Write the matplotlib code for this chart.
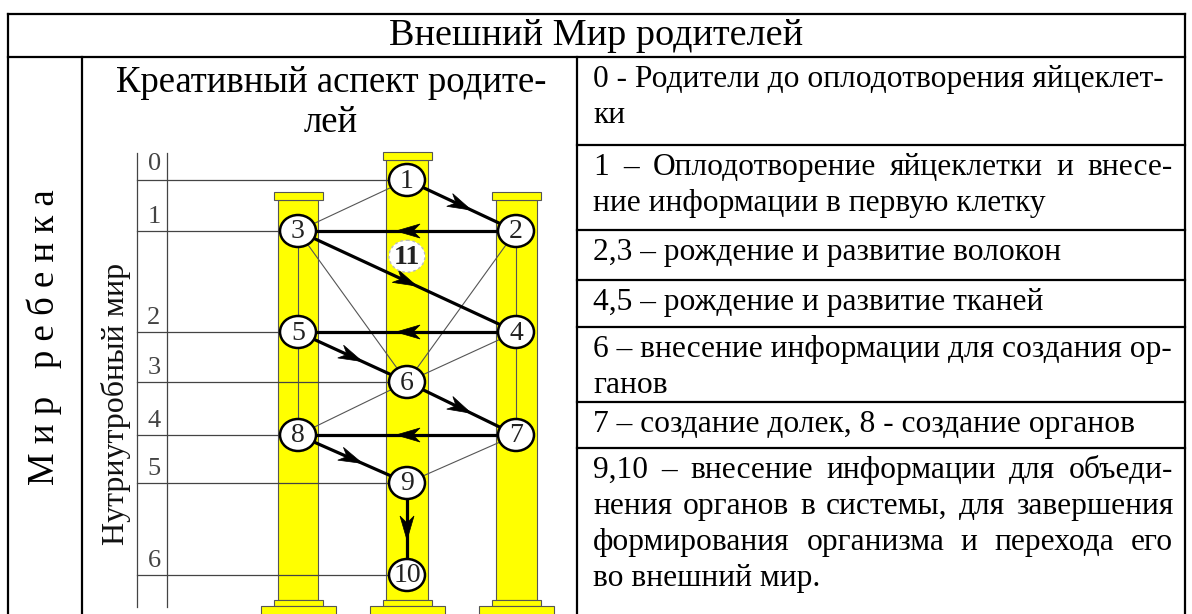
import matplotlib
matplotlib.use("Agg")
import matplotlib.pyplot as plt
from matplotlib.patches import Rectangle, Ellipse, Polygon
import numpy as np

# ---- content ----
header = "Внешний Мир родителей"
side_label = "М и р   р е б е н к а"
panel_title = ["Креативный аспект родите-", "лей"]
axis_label = "Нутриутробный мир"

stage_labels = ["0", "1", "2", "3", "4", "5", "6"]
stage_y = [180, 231, 332, 382, 435, 483, 575]

node_ids = [1, 2, 3, 11, 4, 5, 6, 7, 8, 9, 10]
node_col = [1, 2, 0, 1, 2, 0, 1, 2, 0, 1, 1]
node_level = [0, 1, 1, 1.25, 2, 2, 3, 4, 4, 5, 6]

main_path = [1, 2, 3, 4, 5, 6, 7, 8, 9, 10]
thin_links = [(1, 3), (3, 6), (2, 6), (4, 6), (6, 8), (7, 9),
              (3, 5), (5, 8), (2, 4), (4, 7)]

# right column: rows of (text, justified)
stage_rows = [
    [("0 - Родители до оплодотворения яйцеклет-", False), ("ки", False)],
    [("1 – Оплодотворение яйцеклетки и внесе-", True),
     ("ние информации в первую клетку", False)],
    [("2,3 – рождение и развитие волокон", False)],
    [("4,5 – рождение и развитие тканей", False)],
    [("6 – внесение информации для создания ор-", False), ("ганов", False)],
    [("7 – создание долек, 8 - создание органов", False)],
    [("9,10 – внесение информации для объеди-", True),
     ("нения органов в системы, для завершения", True),
     ("формирования организма и перехода его", True),
     ("во внешний мир.", False)],
]

# ---- layout ----
W, H = 1192, 614
SERIF = "Liberation Serif"
col_x = [298, 407, 516]
row_lines = [57, 145, 230, 280, 327, 402, 448]
x_left, x_side, x_mid, x_right = 7.5, 82, 577, 1185
top = 14

fig = plt.figure(figsize=(W / 100, H / 100), dpi=100)
ax = fig.add_axes([0, 0, 1, 1])
ax.set_xlim(0, W)
ax.set_ylim(H, 0)
ax.axis("off")
renderer = fig.canvas.get_renderer()

# table frame
lw_tab = 1.6
ax.plot([x_left, x_right], [top, top], color="k", lw=lw_tab)
ax.plot([x_left, x_left], [top, H + 5], color="k", lw=lw_tab)
ax.plot([x_right, x_right], [top, H + 5], color="k", lw=lw_tab)
ax.plot([x_left, x_right], [row_lines[0]] * 2, color="k", lw=lw_tab)
ax.plot([x_side, x_side], [row_lines[0], H + 5], color="k", lw=lw_tab)
ax.plot([x_mid, x_mid], [row_lines[0], H + 5], color="k", lw=lw_tab)
for y in row_lines[1:]:
    ax.plot([x_mid, x_right], [y, y], color="k", lw=lw_tab)

ax.text((x_left + x_right) / 2, 36, header, fontsize=27.5, family=SERIF,
        ha="center", va="center")
ax.text((x_left + x_side) / 2, 337, side_label, fontsize=26.5, family=SERIF,
        rotation=90, ha="center", va="center")
ax.text(331, 92, panel_title[0], fontsize=26.5, family=SERIF,
        ha="center", va="baseline")
ax.text(331, 132, panel_title[1], fontsize=26.5, family=SERIF,
        ha="center", va="baseline")


def put_line(x0, x1, y, s, justify, size=22.7):
    if not justify:
        ax.text(x0, y, s, fontsize=size, family=SERIF, va="baseline")
        return
    words = s.split(" ")
    arts = [ax.text(0, y, w, fontsize=size, family=SERIF, va="baseline")
            for w in words]
    widths = [a.get_window_extent(renderer).width for a in arts]
    gap = (x1 - x0 - sum(widths)) / (len(words) - 1)
    x = x0
    for a, w in zip(arts, widths):
        a.set_x(x)
        x += w + gap


for top_y, row in zip(row_lines, stage_rows):
    for i, (s, just) in enumerate(row):
        put_line(593, 1173, top_y + 30 + 36 * i, s, just)

# ---- diagram ----
pillar_w = [40, 42, 41]
cap_top = [192, 152, 192]
for cx, pw, ct in zip(col_x, pillar_w, cap_top):
    ax.add_patch(Rectangle((cx - pw / 2, ct + 8), pw, 600 - ct - 8,
                           fc="#ffff00", ec="#555555", lw=0.8, zorder=1))
    ax.add_patch(Rectangle((cx - 24.5, ct), 49, 8,
                           fc="#ffff00", ec="#555555", lw=0.8, zorder=1))
    ax.add_patch(Rectangle((cx - 24.5, 600), 49, 6,
                           fc="#ffff00", ec="#555555", lw=0.8, zorder=1))
    ax.add_patch(Rectangle((cx - 37.5, 606), 75, 14,
                           fc="#ffff00", ec="#555555", lw=0.8, zorder=1))

# stage axis
for xa in (137, 167):
    ax.plot([xa, xa], [153, 607], color="#444444", lw=0.9, zorder=2)
ax.text(155, 164, stage_labels[0], fontsize=19, family=SERIF, color="#444444",
        ha="center", va="center")

node_x = {n: col_x[c] for n, c in zip(node_ids, node_col)}
node_y = {n: float(np.interp(l, range(len(stage_y)), stage_y))
          for n, l in zip(node_ids, node_level)}

for k, (lab, y) in enumerate(zip(stage_labels, stage_y)):
    at_level = [n for n, l in zip(node_ids, node_level) if l == k]
    xe = min(node_x[n] for n in at_level)
    ax.plot([137, xe], [y, y], color="#444444", lw=0.9, zorder=2)
    if k > 0:
        ax.text(154, y - 14, lab, fontsize=19, family=SERIF, color="#444444",
                ha="center", va="center")

for a, b in thin_links:
    ax.plot([node_x[a], node_x[b]], [node_y[a], node_y[b]],
            color="#555555", lw=0.8, zorder=3)

for a, b in zip(main_path[:-1], main_path[1:]):
    p0 = np.array([node_x[a], node_y[a]])
    p1 = np.array([node_x[b], node_y[b]])
    ax.plot([p0[0], p1[0]], [p0[1], p1[1]], color="k", lw=2.3, zorder=4)
    d = (p1 - p0) / np.linalg.norm(p1 - p0)
    nrm = np.array([-d[1], d[0]])
    tip = (p0 + p1) / 2 + d * 11
    back = tip - d * 24
    head = [tip, back + nrm * 7, tip - d * 17, back - nrm * 7]
    ax.add_patch(Polygon(head, closed=True, fc="k", ec="k", lw=0.5, zorder=4))

for n in node_ids:
    dashed = n == 11
    ax.add_patch(Ellipse((node_x[n], node_y[n]), 36, 32, fc="white",
                         ec="#bbbbbb" if dashed else "k",
                         lw=1.0 if dashed else 1.8,
                         ls=(0, (2, 2)) if dashed else "-", zorder=5))
    ax.text(node_x[n], node_y[n] + 1, str(n), fontsize=20, family=SERIF,
            color="#222222", ha="center", va="center", zorder=6,
            fontweight="bold" if dashed else "normal")

ax.text(116, 404, axis_label, fontsize=23, family=SERIF, rotation=90,
        ha="center", va="center", color="#111111")

fig.savefig("out.png", dpi=100)
